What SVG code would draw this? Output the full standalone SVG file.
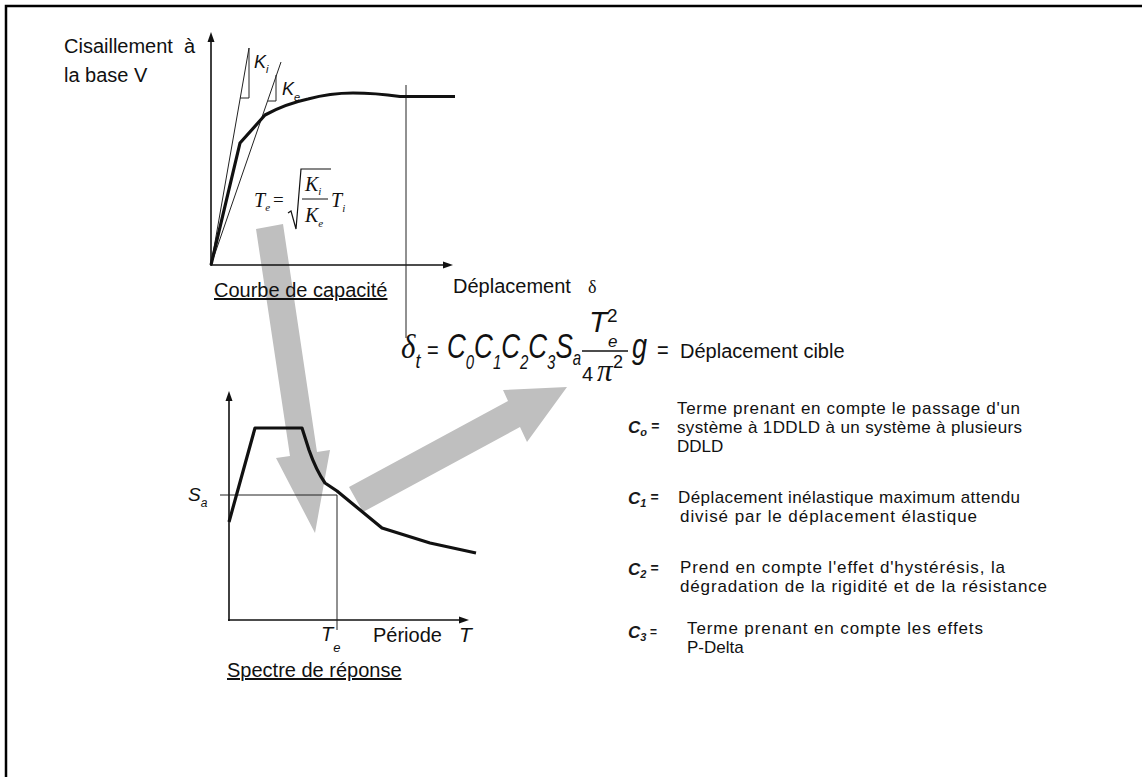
<svg xmlns="http://www.w3.org/2000/svg" width="1142" height="777" viewBox="0 0 1142 777">
<style>
.lbl{font-family:"Liberation Sans",Arial,sans-serif;font-size:20px;fill:#111}
.desc{font-family:"Liberation Sans",Arial,sans-serif;font-size:17px;fill:#111}
.ci{font-family:"Liberation Sans",Arial,sans-serif;font-weight:bold;font-style:italic;fill:#1a1a1a}
.mi{font-family:"Liberation Sans",Arial,sans-serif;font-style:italic;fill:#111}
.ser{font-family:"Liberation Serif","Times New Roman",serif;font-style:italic;fill:#111}
.sers{font-family:"Liberation Serif","Times New Roman",serif;fill:#111}
.up{font-style:normal}
.axis{stroke:#111;stroke-width:1.6;fill:none}
.thin{stroke:#222;stroke-width:1;fill:none}
.thick{stroke:#111;stroke-width:3.2;fill:none;stroke-linejoin:round}
.head{fill:#111}
.gray{fill:#bfbfbf}
</style>
<rect width="1142" height="777" fill="#fff"/>
<g id="frame">
<path d="M6,777 L6,6 L1142,6" stroke="#000" stroke-width="2.5" fill="none"/>
</g>
<g id="connectors">
<polygon class="gray" points="256,229 283,224 317,452 330,450 315,533 276,458 290,456"/>
<polygon class="gray" points="349,487 508,401 503,390 567,387 527,442 520,427 363,512"/>
</g>
<g id="capacity-curve">
<line class="axis" x1="211" y1="266" x2="211" y2="40"/>
<polygon class="head" points="211,32 207.5,42 214.5,42"/>
<line class="axis" x1="211" y1="265" x2="445" y2="265"/>
<polygon class="head" points="453,265 443,261.5 443,268.5"/>
<line class="thin" x1="406" y1="85" x2="406" y2="338"/>
<line class="thin" x1="211" y1="265" x2="249" y2="48"/>
<path class="thin" d="M249,48 L249,98 L240,98"/>
<line class="thin" x1="211" y1="265" x2="281" y2="62"/>
<path class="thin" d="M276,75 L276,101 L268,101"/>
<path class="thick" d="M211,265 L240,143 L265,115 Q285,104 308,99 Q330,93 353,93 Q375,93 400,96.5 L455,96.5"/>
<text class="mi" x="254" y="68" font-size="18">K<tspan font-size="11" dy="5">i</tspan></text>
<text class="mi" x="282" y="95" font-size="18">K<tspan font-size="11" dy="6">e</tspan></text>
<text class="ser" x="254" y="207" font-size="20">T<tspan font-size="11" dy="4">e</tspan><tspan class="up" font-size="19" dy="-5" x="273">=</tspan></text>
<path d="M288,213 L291,211 L296,229 L301,169 L331,169" stroke="#111" stroke-width="1.2" fill="none"/>
<text class="ser" x="305" y="191" font-size="20">K<tspan font-size="11" dy="4">i</tspan></text>
<line x1="302" y1="199" x2="328" y2="199" stroke="#111" stroke-width="1"/>
<text class="ser" x="305" y="222" font-size="20">K<tspan font-size="11" dy="5">e</tspan></text>
<text class="ser" x="331" y="207" font-size="20">T<tspan font-size="11" dy="5">i</tspan></text>
<text class="lbl" x="64" y="53">Cisaillement&#160; à</text>
<text class="lbl" x="64" y="82">la base V</text>
<text class="lbl" x="214" y="297" text-decoration="underline">Courbe de capacité</text>
<text class="lbl" x="453" y="293">Déplacement<tspan class="sers" x="588" font-size="18">δ</tspan></text>
</g>
<g id="response-spectrum">
<line class="axis" x1="229" y1="621" x2="229" y2="400"/>
<polygon class="head" points="229,391 225.5,401 232.5,401"/>
<line class="axis" x1="228" y1="620" x2="460" y2="620"/>
<polygon class="head" points="469,620 459,616.5 459,623.5"/>
<line class="thin" x1="220" y1="495" x2="337" y2="495"/>
<line class="thin" x1="337" y1="495" x2="337" y2="630"/>
<path class="thick" d="M229,522 L255,428 L302,428 L309,450 Q316,470 325,483 L337,491 L382,528 L430,543 L476,553"/>
<text class="mi" x="188" y="501" font-size="19">S<tspan font-size="12" dy="6">a</tspan></text>
<text class="mi" x="321" y="641" font-size="20">T<tspan font-size="13" dy="11">e</tspan></text>
<text class="lbl" x="373" y="642">Période<tspan class="mi" x="459" font-size="21">T</tspan></text>
<text class="lbl" x="227" y="677" text-decoration="underline">Spectre de réponse</text>
</g>
<g id="formula">
<text class="ser" transform="translate(401,358) scale(1,1.1)" x="0" y="0" font-size="31">δ<tspan class="mi" font-size="18" dy="9">t</tspan></text>
<text class="lbl" transform="translate(427,358) scale(1,1.2)" x="0" y="0" font-size="27">=</text>
<text class="mi" transform="translate(447,358) scale(1,1.32)" x="0" y="0" font-size="26">C<tspan font-size="15" dy="8.5">0</tspan><tspan dy="-8.5">C</tspan><tspan font-size="15" dy="8.5">1</tspan><tspan dy="-8.5">C</tspan><tspan font-size="15" dy="8.5">2</tspan><tspan dy="-8.5">C</tspan><tspan font-size="15" dy="8.5">3</tspan><tspan dy="-8.5">S</tspan><tspan font-size="15" dy="5.5">a</tspan></text>
<text class="mi" x="589" y="332" font-size="30">T<tspan class="up" font-size="19" x="607" dy="-10">2</tspan><tspan font-size="17" x="608" dy="25">e</tspan></text>
<line x1="582" y1="351" x2="628" y2="351" stroke="#111" stroke-width="1.5"/>
<text class="lbl" x="582" y="381" font-size="29">4<tspan class="ser" x="597" font-size="31">π</tspan><tspan font-size="18" x="613" dy="-13">2</tspan></text>
<text class="mi" transform="translate(632,358) scale(1,1.3)" x="0" y="0" font-size="27">g</text>
<text class="lbl" transform="translate(657,358) scale(1,1.2)" x="0" y="0" font-size="27">=</text>
<text class="lbl" x="680" y="358">Déplacement cible</text>
</g>
<g id="c0">
<text class="ci" x="628" y="433" font-size="17">C<tspan font-size="11" dy="3">o</tspan><tspan font-size="14" dy="-5"> =</tspan></text>
<text class="desc" x="677" y="414" textLength="343" lengthAdjust="spacing">Terme prenant en compte le passage d'un</text>
<text class="desc" x="677" y="433" textLength="345" lengthAdjust="spacing">système à 1DDLD à un système à plusieurs</text>
<text class="desc" x="677" y="452">DDLD</text>
</g>
<g id="c1">
<text class="ci" x="628" y="504" font-size="17">C<tspan font-size="11" dy="3">1</tspan><tspan font-size="14" dy="-5"> =</tspan></text>
<text class="desc" x="678" y="503" textLength="342" lengthAdjust="spacing">Déplacement inélastique maximum attendu</text>
<text class="desc" x="680" y="522" textLength="297" lengthAdjust="spacing">divisé par le déplacement élastique</text>
</g>
<g id="c2">
<text class="ci" x="628" y="575" font-size="17">C<tspan font-size="11" dy="3">2</tspan><tspan font-size="14" dy="-5"> =</tspan></text>
<text class="desc" x="680" y="573" textLength="325" lengthAdjust="spacing">Prend en compte l'effet d'hystérésis, la</text>
<text class="desc" x="680" y="592" textLength="367" lengthAdjust="spacing">dégradation de la rigidité et de la résistance</text>
</g>
<g id="c3">
<text class="ci" x="628" y="638" font-size="17">C<tspan font-size="11" dy="3">3</tspan><tspan font-size="12" dy="-5"> =</tspan></text>
<text class="desc" x="687" y="634" textLength="296" lengthAdjust="spacing">Terme prenant en compte les effets</text>
<text class="desc" x="687" y="653">P-Delta</text>
</g>
</svg>
